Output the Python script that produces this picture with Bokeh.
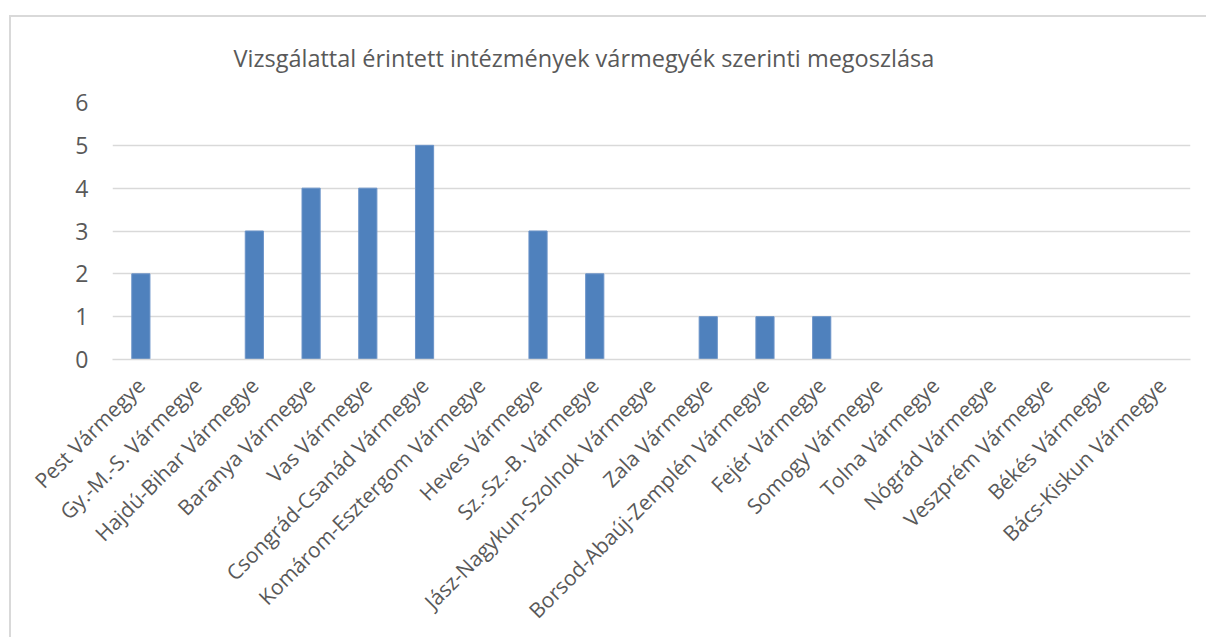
from bokeh.plotting import figure
from bokeh.models import FactorRange, Range1d, FixedTicker, Title
from bokeh.embed import file_html
from bokeh.resources import INLINE
import math

categories = ["Pest Vármegye", "Gy.-M.-S. Vármegye", "Hajdú-Bihar Vármegye", "Baranya Vármegye",
              "Vas Vármegye", "Csongrád-Csanád Vármegye", "Komárom-Esztergom Vármegye",
              "Heves Vármegye", "Sz.-Sz.-B. Vármegye", "Jász-Nagykun-Szolnok Vármegye",
              "Zala Vármegye", "Borsod-Abaúj-Zemplén Vármegye", "Fejér Vármegye",
              "Somogy Vármegye", "Tolna Vármegye", "Nógrád Vármegye", "Veszprém Vármegye",
              "Békés Vármegye", "Bács-Kiskun Vármegye"]
values = [2, 0, 3, 4, 4, 5, 0, 3, 2, 0, 1, 1, 1, 0, 0, 0, 0, 0, 0]
y_ticks = [0, 1, 2, 3, 4, 5, 6]
title_text = "Vizsgálattal érintett intézmények vármegyék szerinti megoszlása"

FONT = "Open Sans"
GRAY = "#595959"

p = figure(width=1206, height=637, x_range=FactorRange(factors=categories),
           y_range=Range1d(0, 6), output_backend="svg", toolbar_location=None,
           min_border_left=112, min_border_right=16, min_border_top=102, min_border_bottom=278)

p.title = Title(text=title_text, align="left", offset=121, text_font=FONT,
                text_font_size="23.5px", text_font_style="normal", text_color=GRAY, standoff=58)

p.vbar(x=categories, top=values, width=0.32, bottom=0, fill_color="#4F81BD",
       line_color="#6A93C8", line_width=1)

p.outline_line_color = None
p.background_fill_color = "white"
p.border_fill_alpha = 0
p.styles = {
    "background": "linear-gradient(#d9d9d9,#d9d9d9) 9px 15px / 2px calc(100% - 15px) no-repeat, "
                  "linear-gradient(#d9d9d9,#d9d9d9) 9px 15px / calc(100% - 9px) 2px no-repeat, white"
}

p.xgrid.grid_line_color = None
p.ygrid.grid_line_color = "#d9d9d9"
p.ygrid.grid_line_width = 1.5
p.yaxis.ticker = FixedTicker(ticks=y_ticks)

p.yaxis.axis_line_color = None
p.yaxis.major_tick_line_color = None
p.yaxis.minor_tick_line_color = None
p.yaxis.major_label_standoff = 18
p.yaxis.major_label_text_font = FONT
p.yaxis.major_label_text_font_size = "23px"
p.yaxis.major_label_text_color = GRAY

p.xaxis.axis_line_color = "#d9d9d9"
p.xaxis.axis_line_width = 1.5
p.xaxis.major_tick_line_color = None
p.xaxis.minor_tick_line_color = None
p.xaxis.major_label_orientation = math.pi / 4
p.xaxis.major_label_standoff = 16
p.xaxis.major_label_text_font = FONT
p.xaxis.major_label_text_font_size = "21px"
p.xaxis.major_label_text_color = GRAY

open("out.html", "w").write(file_html(p, INLINE))
